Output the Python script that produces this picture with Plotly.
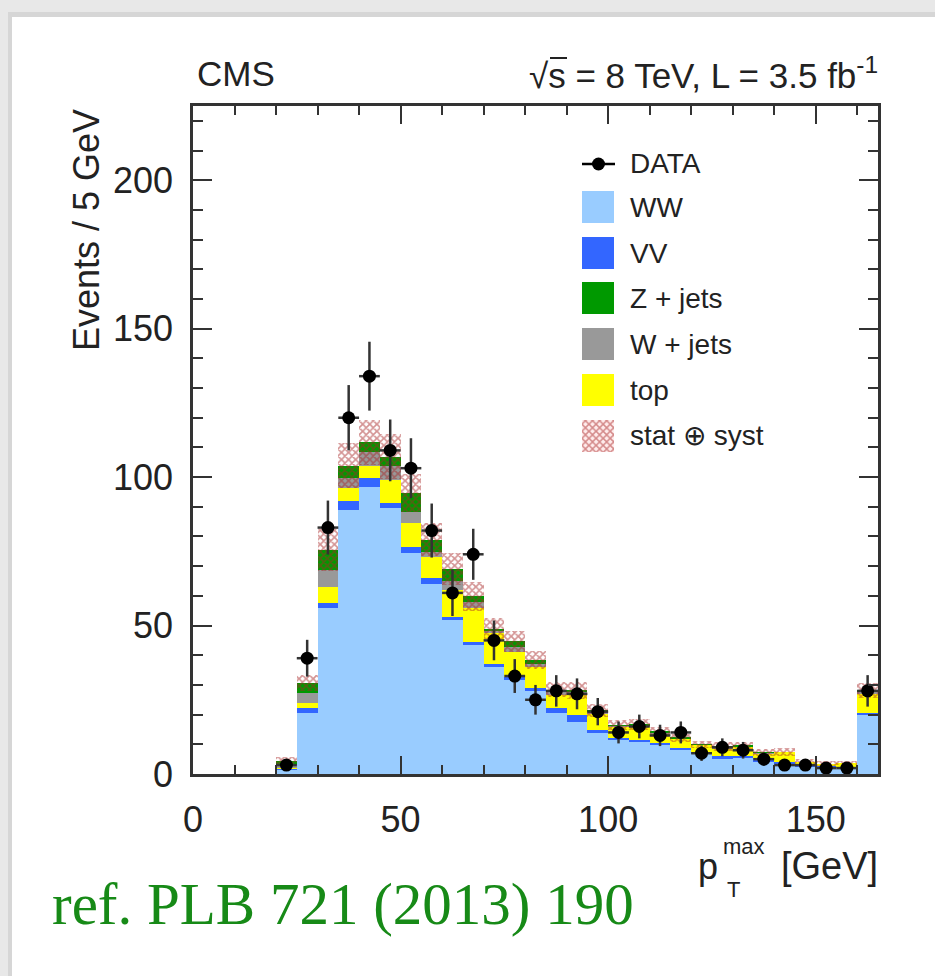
import plotly.graph_objects as go

# ---- histogram content: leading-lepton pT, 5 GeV bins (last bin = overflow) ----
bin_centers = [22.5, 27.5, 32.5, 37.5, 42.5, 47.5, 52.5, 57.5, 62.5, 67.5,
               72.5, 77.5, 82.5, 87.5, 92.5, 97.5, 102.5, 107.5, 112.5, 117.5,
               122.5, 127.5, 132.5, 137.5, 142.5, 147.5, 152.5, 157.5, 162.5]

ww = [1.5, 20.4, 55.8, 89.0, 96.8, 89.5, 74.6, 64.0, 51.9, 43.5,
      36.2, 31.7, 28.1, 20.7, 17.6, 13.7, 11.5, 10.9, 9.8, 8.1,
      7.0, 5.0, 5.6, 4.1, 3.6, 2.5, 2.3, 2.2, 19.9]
vv = [0.2, 1.7, 1.9, 2.8, 2.9, 1.7, 2.0, 1.9, 1.1, 1.1,
      0.9, 1.1, 0.8, 1.4, 2.2, 1.1, 0.5, 0.5, 0.6, 0.5,
      0.4, 1.0, 0.5, 1.2, 0.4, 0.3, 0.3, 0.3, 0.5]
top = [0.6, 1.9, 5.4, 4.5, 4.1, 7.9, 7.9, 7.3, 9.0, 11.2,
       10.3, 8.4, 7.3, 4.5, 6.8, 5.6, 3.9, 4.5, 3.3, 3.4,
       2.4, 2.6, 3.0, 1.7, 3.4, 1.3, 0.9, 1.2, 6.8]
wjets = [0.6, 3.2, 5.7, 3.4, 4.8, 4.7, 3.9, 1.7, 3.0, 2.0,
         0.8, 1.5, 1.0, 1.0, 1.2, 0.6, 0.3, 0.4, 0.2, 0.0,
         0.1, 0.3, 0.2, 0.2, 0.0, 0.0, 0.0, 0.0, 0.6]
zjets = [1.4, 3.4, 6.7, 4.1, 3.1, 3.1, 6.2, 4.0, 4.0, 2.0,
         0.8, 2.0, 1.2, 0.8, 0.4, 0.3, 0.3, 0.4, 0.3, 0.2,
         0.1, 0.3, 0.2, 0.1, 0.0, 0.0, 0.0, 0.0, 0.3]
# half-width of the stat (+) syst band around the total prediction
band_err = [1.5, 2.8, 7.0, 7.6, 7.6, 7.5, 6.5, 5.5, 5.5, 5.0,
            3.5, 3.5, 3.0, 2.5, 2.8, 2.2, 1.8, 1.8, 1.6, 1.4,
            1.2, 1.5, 1.3, 1.2, 1.5, 0.8, 0.8, 0.8, 2.5]

data = [3, 39, 83, 120, 134, 109, 103, 82, 61, 74,
        45, 33, 25, 28, 27, 21, 14, 16, 13, 14,
        7, 9, 8, 5, 3, 3, 2, 2, 28]
data_err = [1.7, 6.2, 9.1, 11.0, 11.6, 10.4, 10.1, 9.1, 7.8, 8.6,
            6.7, 5.7, 5.0, 5.3, 5.2, 4.6, 3.7, 4.0, 3.6, 3.7,
            2.6, 3.0, 2.8, 2.2, 1.7, 1.7, 1.4, 1.4, 5.3]

x_ticks = [0, 50, 100, 150]
y_ticks = [0, 50, 100, 150, 200]

stack = [("WW", ww, "#99ccff"),
         ("VV", vv, "#3366ff"),
         ("top", top, "#ffff00"),
         ("W + jets", wjets, "#999999"),
         ("Z + jets", zjets, "#009900")]

legend_rows = [("DATA", None), ("WW", "#99ccff"), ("VV", "#3366ff"),
               ("Z + jets", "#009900"), ("W + jets", "#999999"),
               ("top", "#ffff00"), ("stat \u2295 syst", "hatch")]

# ---- canvas geometry (pixels) ----
W, H = 935, 976
L, R, T, B = 193, 878, 106, 774
pw, ph = R - L, B - T


def px(x):
    return (x - L) / pw


def py(y):
    return (B - y) / ph


SANS = "Liberation Sans, Arial, Helvetica, sans-serif"
INK = "#222222"
HATCH = "#a82626"

fig = go.Figure()

for name, vals, col in stack:
    fig.add_trace(go.Bar(x=bin_centers, y=vals, width=5, name=name,
                         marker=dict(color=col, line=dict(width=0)),
                         showlegend=False, hoverinfo="skip"))

total = [sum(v) for v in zip(ww, vv, top, wjets, zjets)]
fig.add_trace(go.Bar(
    x=bin_centers, y=[2 * e for e in band_err],
    base=[t - e for t, e in zip(total, band_err)], width=5,
    marker=dict(color="rgba(0,0,0,0)", line=dict(width=0),
                pattern=dict(shape="x", fgcolor=HATCH, bgcolor="rgba(0,0,0,0)",
                             size=5, solidity=0.55, fillmode="overlay")),
    showlegend=False, hoverinfo="skip"))

fig.add_trace(go.Scatter(
    x=bin_centers, y=data, mode="markers",
    marker=dict(color="black", size=13),
    error_y=dict(type="data", array=data_err, color="#333333", thickness=2.5, width=0),
    error_x=dict(type="constant", value=2.5, color="#333333", thickness=2.5, width=0),
    showlegend=False, hoverinfo="skip"))

# hatched legend swatch, drawn on an overlay axis spanning the plot area in [0,1]
sx0, sx1 = px(582), px(614)
sy0, sy1 = py(452), py(420)
fig.add_trace(go.Scatter(
    x=[sx0, sx1, sx1, sx0, sx0], y=[sy0, sy0, sy1, sy1, sy0],
    xaxis="x3", yaxis="y3", mode="lines", line=dict(width=0),
    fill="toself", fillcolor="rgba(255,236,236,1)",
    fillpattern=dict(shape="x", fgcolor=HATCH, bgcolor="rgba(255,236,236,1)",
                     size=5, solidity=0.5, fillmode="overlay"),
    showlegend=False, hoverinfo="skip"))

shapes = []
# page background card with soft shadow
shapes.append(dict(type="rect", xref="paper", yref="paper", layer="below",
                   x0=px(8), x1=px(960), y0=py(990), y1=py(12),
                   fillcolor="#d6d6d6", line=dict(width=0)))
shapes.append(dict(type="rect", xref="paper", yref="paper", layer="below",
                   x0=px(12), x1=px(960), y0=py(990), y1=py(17),
                   fillcolor="#ffffff", line=dict(width=0)))

# legend swatches
row_y = [164, 207, 253, 298, 344, 390, 436]
for (label, col), yc in zip(legend_rows, row_y):
    if col is None:
        shapes.append(dict(type="line", xref="paper", yref="paper",
                           x0=px(582), x1=px(615), y0=py(yc), y1=py(yc),
                           line=dict(color="black", width=2.5)))
        shapes.append(dict(type="circle", xref="paper", yref="paper",
                           x0=px(592), x1=px(605), y0=py(yc + 6.5), y1=py(yc - 6.5),
                           fillcolor="black", line=dict(width=0)))
    elif col != "hatch":
        shapes.append(dict(type="rect", xref="paper", yref="paper",
                           x0=px(582), x1=px(614), y0=py(yc + 16), y1=py(yc - 16),
                           fillcolor=col, line=dict(width=0)))

# overline of the square-root sign over "s"
shapes.append(dict(type="line", xref="paper", yref="paper",
                   x0=px(550), x1=px(567), y0=py(58), y1=py(58),
                   line=dict(color=INK, width=2)))

annotations = []
for (label, col), yc in zip(legend_rows, row_y):
    annotations.append(dict(text=label, x=px(628), y=py(yc),
                            xanchor="left", yanchor="middle",
                            font=dict(family=SANS, size=28, color=INK)))

annotations += [
    dict(text="CMS", x=px(195), y=py(73), xanchor="left", yanchor="middle",
         font=dict(family=SANS, size=35, color=INK)),
    dict(text="\u221as = 8 TeV, L = 3.5 fb<sup>-1</sup>", x=px(880), y=py(73),
         xanchor="right", yanchor="middle", font=dict(family=SANS, size=35, color=INK)),
    dict(text="Events / 5 GeV", x=px(86), y=py(230), textangle=-90,
         xanchor="center", yanchor="middle", font=dict(family=SANS, size=36, color=INK)),
    dict(text="p", x=px(720), y=py(866), xanchor="right", yanchor="middle",
         font=dict(family=SANS, size=36, color=INK)),
    dict(text="max", x=px(721), y=py(846), xanchor="left", yanchor="middle",
         font=dict(family=SANS, size=22, color=INK)),
    dict(text="T", x=px(725), y=py(889), xanchor="left", yanchor="middle",
         font=dict(family=SANS, size=22, color=INK)),
    dict(text="[GeV]", x=px(880), y=py(866), xanchor="right", yanchor="middle",
         font=dict(family=SANS, size=38, color=INK)),
    dict(text="ref. PLB 721 (2013) 190", x=px(50), y=py(904), xanchor="left",
         yanchor="middle", font=dict(family="Liberation Serif, DejaVu Serif, serif",
                                     size=59, color="#178a17")),
]
for a in annotations:
    a["xref"] = "paper"
    a["yref"] = "paper"
    a["showarrow"] = False

axis_common = dict(showline=True, linewidth=2.5, linecolor="#333333", mirror="ticks",
                   ticks="inside", tickcolor="#333333", tickwidth=2,
                   showgrid=False, zeroline=False,
                   tickfont=dict(family=SANS, size=36, color=INK))

fig.update_layout(
    width=W, height=H,
    margin=dict(l=L, r=W - R, t=T, b=H - B),
    paper_bgcolor="#e8e8e8", plot_bgcolor="#ffffff",
    barmode="stack", bargap=0,
    xaxis=dict(range=[0, 165], tickvals=x_ticks, ticklen=18, ticklabelstandoff=12,
               minor=dict(dtick=10, tick0=0, ticklen=9, ticks="inside",
                          tickcolor="#333333", tickwidth=2),
               **axis_common),
    yaxis=dict(range=[0, 225], tickvals=y_ticks, ticklen=19, ticklabelstandoff=10,
               minor=dict(dtick=10, tick0=0, ticklen=10, ticks="inside",
                          tickcolor="#333333", tickwidth=2),
               **axis_common),
    xaxis3=dict(overlaying="x", range=[0, 1], visible=False),
    yaxis3=dict(overlaying="y", range=[0, 1], visible=False),
    shapes=shapes, annotations=annotations, showlegend=False,
)

fig.write_html("out.html")
